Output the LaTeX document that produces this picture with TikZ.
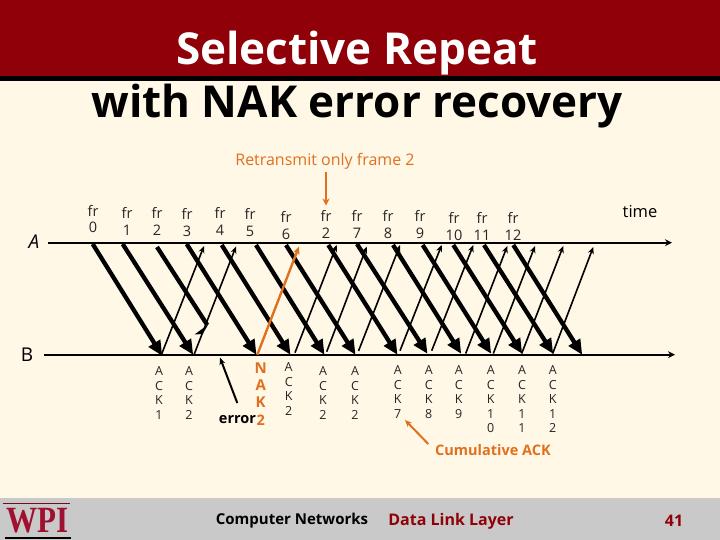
\documentclass[tikz,border=0pt]{standalone}
\usepackage{fontspec}
\setmainfont{Open Sans}
\newfontfamily\wpifont{Liberation Serif}
\usetikzlibrary{arrows.meta}
\definecolor{cream}{HTML}{FFF8E7}
\definecolor{band}{HTML}{900008}
\definecolor{footgray}{HTML}{C9C9C9}
\definecolor{nakorange}{HTML}{E0701E}
\definecolor{wpired}{HTML}{A01030}
\tikzset{
  axisline/.style={line width=2pt,-{Stealth[length=7pt,width=7pt]}},
  frameline/.style={line width=4.3pt,-{Triangle[length=15pt,width=13pt]},shorten >=-1pt},
  ackline/.style={line width=1.6pt,-{Stealth[length=7pt,width=6pt]}},
  nakline/.style={line width=2.4pt,draw=nakorange,-{Stealth[length=8pt,width=7pt]}},
  pointer/.style={line width=2pt,-{Stealth[length=7pt,width=6pt]}},
  txt/.style={inner sep=0pt,outer sep=0pt,anchor=center},
  frlabel/.style={txt,font=\fontsize{14.5}{16.7}\selectfont,align=center,text=black!85},
  acklabel/.style={txt,anchor=north,font=\fontsize{12.5}{14.4}\selectfont,align=center,text=black!85},
}
\begin{document}
\begin{tikzpicture}[x=1pt,y=-1pt]
\useasboundingbox (0,0) rectangle (720,540);
\fill[cream] (0,0) rectangle (720,540);
\fill[band] (0,0) rectangle (720,76);
\fill[black] (0,76) rectangle (720,81);
\fill[footgray] (0,498) rectangle (720,540);
% title
\node[txt,text=white,font=\bfseries\fontsize{44}{44}\selectfont] (title1) at (357,53) {Selective Repeat};
\node[txt,text=black,font=\bfseries\fontsize{44}{44}\selectfont] (title2) at (357,106) {with NAK error recovery};
\node[txt,text=nakorange,font=\fontsize{16}{16}\selectfont] (retx) at (325,161) {Retransmit only frame 2};
% axes
\node[txt,font=\itshape\fontsize{19}{19}\selectfont] (lblA) at (34,242) {A};
\node[txt,font=\fontsize{19}{19}\selectfont] (lblB) at (27,355) {B};
\coordinate (As) at (48,242.7); \coordinate (Ae) at (672,242.7);
\coordinate (Bs) at (44,354.7); \coordinate (Be) at (675,354.7);
\draw[axisline] (As) -- (Ae);
\draw[axisline] (Bs) -- (Be);
\node[txt,font=\fontsize{16.5}{16}\selectfont] (time) at (640,212) {time};
% retransmit pointer
\coordinate (rets) at (326,172); \coordinate (rete) at (326,205.5);
\draw[line width=2pt,draw=nakorange,-{Stealth[length=7pt,width=7pt]}] (rets) -- (rete);
% frame labels
\foreach \i/\x/\y/\t in {0/93/219/0,1/127/221.5/1,2/157/221.5/2,3/187/222.5/3,4/220/221.5/4,5/250/222.5/5,6/286/225.5/6,7/326/224.5/2,8/357/224.5/7,9/388/224.5/8,10/420/224.5/9,11/454/226.5/10,12/482/226.5/11,13/513/226.5/12}
  \node[frlabel] (fr\i) at (\x,\y) {fr\\\t};
% frames
\foreach \i/\sx/\sy/\ex/\ey in {
 0/92.7/244/161.7/355,
 1/122.7/244/192.7/354,
 3/186.7/244/256/354,
 4/221.7/245/290/354,
 5/256/245/324/354,
 6/286/245/355/354,
 7/328.3/245/397/354,
 8/357/244/427/353,
 9/393/245/460.7/353,
 10/422.7/245/490.7/353,
 11/453.3/245/521.7/353,
 12/484/245/552.7/353,
 13/513.3/245/581.7/354}{
  \coordinate (fs\i) at (\sx,\sy);
  \coordinate (fe\i) at (\ex,\ey);
  \draw[frameline] (fs\i) -- (fe\i);
}
% lost frame 2
\coordinate (fs2) at (157,247); \coordinate (fe2) at (207.3,325);
\draw[line width=4.3pt] (fs2) -- (fe2);
\fill (208.3,324.5) -- (194.5,334.5) -- (202.5,334) -- cycle;
% acks
\foreach \i/\sx/\sy/\ex/\ey in {
 1/161.7/354/204/246,
 2/194.3/354/236/246.5,
 3/295/352.7/336.7/245,
 4/326.7/351.7/366.7/246.7,
 5/358.5/351/400/245,
 6/400/350.7/441.7/245,
 7/431.7/350.7/473.3/245,
 8/465.7/353.5/507.3/246,
 9/493.3/353.5/535/246,
 10/521.7/353.5/563.3/246,
 11/552.7/353.5/593.3/247}{
  \coordinate (as\i) at (\sx,\sy);
  \coordinate (ae\i) at (\ex,\ey);
  \draw[ackline] (as\i) -- (ae\i);
}
% NAK
\coordinate (naks) at (257.3,354.7); \coordinate (nake) at (299,246.5);
\draw[nakline] (naks) -- (nake);
\node[txt,anchor=north,text=nakorange,font=\bfseries\fontsize{15}{16.7}\selectfont,align=center] (nak) at (260.7,363) {N\\A\\K};
% error
\node[txt,anchor=east,font=\bfseries\fontsize{14.5}{14}\selectfont] (err) at (256,420) {error};
\node[txt,anchor=west,text=nakorange,font=\bfseries\fontsize{14.5}{14}\selectfont] (err2) at (256.5,420) {2};
\coordinate (errs) at (237.3,403); \coordinate (erre) at (220,357.7);
\draw[pointer] (errs) -- (erre);
% ack labels
\foreach \i/\x/\y/\t in {
 1/159/367/A\\C\\K\\1,
 2/189/367/A\\C\\K\\2,
 3/288.7/363/A\\C\\K\\2,
 4/323/367/A\\C\\K\\2,
 5/355/367/A\\C\\K\\2,
 6/397.7/366/A\\C\\K\\7,
 7/428.7/366/A\\C\\K\\8,
 8/458.7/366/A\\C\\K\\9,
 9/490.7/366/A\\C\\K\\1\\0,
 10/522/366/A\\C\\K\\1\\1,
 11/552.7/366/A\\C\\K\\1\\2}
  \node[acklabel] (ack\i) at (\x,\y) {\t};
% cumulative
\node[txt,text=nakorange,font=\bfseries\fontsize{14.5}{13}\selectfont] (cum) at (493,450) {Cumulative ACK};
\coordinate (cumtail) at (428.3,444); \coordinate (cumhead) at (405,420);
\draw[pointer,draw=nakorange] (cumtail) -- (cumhead);
% footer
\draw[line width=1pt,wpired!70!black] (3,503.5) -- (70,503.5);
\draw[line width=1.2pt,black] (5,538) -- (71,538);
\node[txt,text=wpired,font=\wpifont\bfseries\fontsize{37}{37}\selectfont] (wpi) at (38,520.5) {\scalebox{.84}[1]{WPI}};
\node[txt,font=\bfseries\fontsize{15}{14}\selectfont] (foot1) at (292,521) {Computer Networks};
\node[txt,text=band,font=\bfseries\fontsize{16}{14}\selectfont] (foot2) at (451,521) {Data Link Layer};
\node[txt,text=band,font=\bfseries\fontsize{16}{15}\selectfont] (pg) at (674,521) {41};
\end{tikzpicture}
\end{document}
